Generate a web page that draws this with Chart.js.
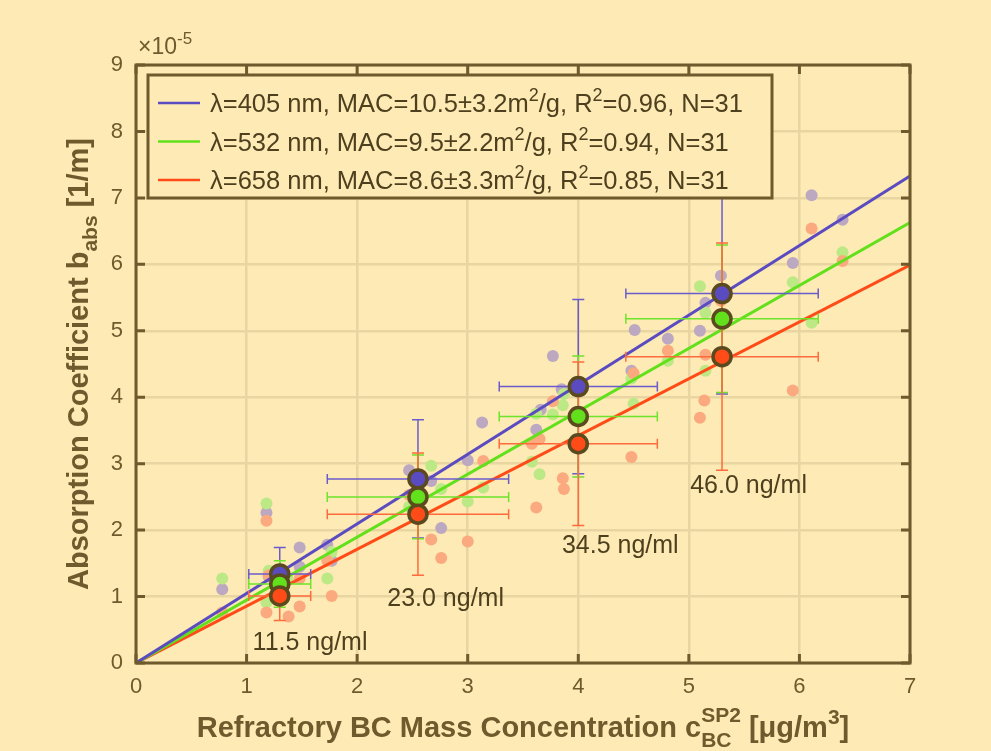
<!DOCTYPE html>
<html>
<head>
<meta charset="utf-8">
<script src="https://cdn.jsdelivr.net/npm/chart.js@4.4.1/dist/chart.umd.min.js"></script>
<style>
  body { margin: 0; background: #FDEAB5; }
  canvas { display: block; }
</style>
</head>
<body>
<canvas id="chart" width="991" height="751"></canvas>
<script>
// values in units of 1e-5 1/m (y) and ug/m3 (x)
const xTicks = [0, 1, 2, 3, 4, 5, 6, 7];
const yTicks = [0, 1, 2, 3, 4, 5, 6, 7, 8, 9];

const groupX = [1.30, 2.55, 4.00, 5.30];
const groupXErr = [0.28, 0.82, 0.715, 0.87];
const groupLabels = ["11.5 ng/ml", "23.0 ng/ml", "34.5 ng/ml", "46.0 ng/ml"];
const groupLabelX = [1.574, 2.80, 4.38, 5.54];
const groupLabelY = [0.196, 0.86, 1.66, 2.56];

const mean405 = [1.34, 2.77, 4.16, 5.56];
const err405 = [0.40, 0.89, 1.31, 1.51];
const mean532 = [1.19, 2.50, 3.71, 5.18];
const err532 = [0.35, 0.63, 0.91, 1.11];
const mean658 = [1.01, 2.24, 3.30, 4.61];
const err658 = [0.37, 0.92, 1.23, 1.71];

// fitted line end values at x = 7
const fitEnd = [7.33, 6.63, 5.99];

const pts405x = [0.78, 1.18, 1.48, 1.73, 1.77, 1.48, 1.30, 1.20, 2.47, 2.67, 2.76, 3.00, 3.13, 3.62, 3.66, 3.77, 3.85, 2.55, 4.48, 4.51, 4.81, 5.10, 5.15, 5.29, 5.94, 6.11, 6.39];
const pts405y = [1.11, 2.26, 1.74, 1.78, 1.54, 1.45, 1.37, 1.30, 2.90, 2.74, 2.03, 3.05, 3.62, 3.51, 3.81, 4.62, 4.12, 2.80, 4.40, 5.01, 4.88, 5.00, 5.42, 5.83, 6.02, 7.04, 6.67];

const pts532x = [0.78, 1.18, 1.77, 1.37, 1.73, 1.18, 1.20, 2.67, 2.76, 3.14, 3.00, 2.47, 3.58, 3.65, 3.62, 3.77, 3.87, 3.86, 4.48, 4.50, 4.81, 5.10, 5.15, 5.15, 5.94, 6.11, 6.39];
const pts532y = [1.27, 2.40, 1.67, 1.27, 1.27, 0.91, 1.39, 2.97, 2.62, 2.64, 2.43, 2.35, 3.03, 2.84, 3.75, 3.74, 4.05, 3.88, 4.28, 3.90, 4.55, 5.67, 5.27, 4.40, 5.73, 5.12, 6.18];

const pts658x = [1.18, 1.73, 1.48, 1.20, 1.77, 1.18, 1.48, 1.38, 0.78, 3.58, 3.65, 3.14, 2.47, 2.67, 3.00, 2.76, 3.62, 3.77, 4.50, 4.48, 3.86, 3.87, 4.81, 5.15, 5.29, 5.14, 5.10, 6.11, 6.39, 5.94];
const pts658y = [2.14, 1.54, 1.27, 1.32, 1.01, 0.76, 0.85, 0.70, 0.76, 3.30, 3.37, 3.04, 2.53, 1.86, 1.83, 1.58, 2.34, 3.94, 4.36, 3.10, 2.78, 2.62, 4.70, 4.64, 5.45, 3.95, 3.69, 6.54, 6.05, 4.10];

const col405 = "#5B4BC0", col532 = "#62E01C", col658 = "#FF4B17";
const fade405 = "#BCA8C0", fade532 = "#BCE985", fade658 = "#FBA97F";
const axisCol = "#6E5A2C", textCol = "#4E401E", bg = "#FDEAB5";

function pairs(xs, ys) { return xs.map((x, i) => ({ x: x, y: ys[i] })); }

const errSets = [
  { mean: mean405, err: err405, color: "#6B5CCB" },
  { mean: mean532, err: err532, color: "#6EE42A" },
  { mean: mean658, err: err658, color: "#FF6B3C" }
];

function meanSet(ys, color, order, extra) {
  return Object.assign({
    data: pairs(groupX, ys), backgroundColor: color, borderColor: "#5A4A1E",
    borderWidth: 3.5, pointRadius: 9, order: order
  }, extra || {});
}
function fitSet(end, color) {
  return {
    type: "line", data: [{ x: 0, y: 0 }, { x: 7, y: end }], borderColor: color,
    borderWidth: 3, pointRadius: 0, fill: false, order: 3
  };
}
function fadeSet(xs, ys, color, order) {
  return { data: pairs(xs, ys), backgroundColor: color, borderWidth: 0, pointRadius: 6, order: order };
}

// rich text helper: parts {t, size, bold, dy} or {stack:[sup, sub], size}
function font(size, bold) { return (bold ? "bold " : "") + size + "px 'Liberation Sans', Arial, sans-serif"; }
function partWidth(ctx, p) {
  ctx.font = font(p.size, p.bold);
  if (p.stack) return Math.max(ctx.measureText(p.stack[0]).width, ctx.measureText(p.stack[1]).width);
  return ctx.measureText(p.t).width;
}
function drawRich(ctx, parts, x, y, align) {
  let w = 0;
  parts.forEach(p => w += partWidth(ctx, p));
  let cx = align === "center" ? x - w / 2 : x;
  ctx.textBaseline = "alphabetic";
  ctx.textAlign = "left";
  parts.forEach(p => {
    const pw = partWidth(ctx, p);
    ctx.font = font(p.size, p.bold);
    if (p.stack) {
      ctx.fillText(p.stack[0], cx, y - p.up);
      ctx.fillText(p.stack[1], cx, y + p.down);
    } else {
      ctx.fillText(p.t, cx, y + (p.dy || 0));
    }
    cx += pw;
  });
}

const decor = {
  id: "decor",
  beforeDatasetDraw(chart, args) {
    if (!chart.data.datasets[args.index].errBefore) return;
    const ctx = chart.ctx, xs = chart.scales.x, ys = chart.scales.y;
    ctx.save();
    ctx.lineWidth = 1.5;
    errSets.forEach(s => {
      ctx.strokeStyle = s.color;
      groupX.forEach((gx, i) => {
        const px = xs.getPixelForValue(gx), py = ys.getPixelForValue(s.mean[i]);
        const l = xs.getPixelForValue(gx - groupXErr[i]), r = xs.getPixelForValue(gx + groupXErr[i]);
        const t = ys.getPixelForValue(s.mean[i] + s.err[i]), b = ys.getPixelForValue(s.mean[i] - s.err[i]);
        ctx.beginPath();
        ctx.moveTo(l, py); ctx.lineTo(r, py);
        ctx.moveTo(l, py - 5); ctx.lineTo(l, py + 5);
        ctx.moveTo(r, py - 5); ctx.lineTo(r, py + 5);
        ctx.moveTo(px, t); ctx.lineTo(px, b);
        ctx.moveTo(px - 6, t); ctx.lineTo(px + 6, t);
        ctx.moveTo(px - 6, b); ctx.lineTo(px + 6, b);
        ctx.stroke();
      });
    });
    ctx.restore();
  },
  afterDraw(chart) {
    const ctx = chart.ctx, a = chart.chartArea, xs = chart.scales.x, ys = chart.scales.y;
    ctx.save();
    // axis box with inward ticks
    ctx.strokeStyle = axisCol;
    ctx.lineWidth = 3;
    ctx.strokeRect(a.left, a.top, a.right - a.left, a.bottom - a.top);
    ctx.beginPath();
    xTicks.forEach(v => {
      const p = xs.getPixelForValue(v);
      ctx.moveTo(p, a.bottom); ctx.lineTo(p, a.bottom - 9);
      ctx.moveTo(p, a.top); ctx.lineTo(p, a.top + 9);
    });
    yTicks.forEach(v => {
      const p = ys.getPixelForValue(v);
      ctx.moveTo(a.left, p); ctx.lineTo(a.left + 9, p);
      ctx.moveTo(a.right, p); ctx.lineTo(a.right - 9, p);
    });
    ctx.stroke();

    // group annotations
    ctx.fillStyle = textCol;
    groupLabels.forEach((t, i) => {
      drawRich(ctx, [{ t: t, size: 25 }], xs.getPixelForValue(groupLabelX[i]), ys.getPixelForValue(groupLabelY[i]), "center");
    });

    // exponent
    ctx.fillStyle = axisCol;
    drawRich(ctx, [{ t: "\u00d710", size: 23 }, { t: "-5", size: 17, dy: -10 }], a.left + 2, a.top - 11, "left");

    // legend
    const lx = a.left + 12, ly = a.top + 10, lw = 624, lh = 123;
    ctx.fillStyle = bg;
    ctx.fillRect(lx, ly, lw, lh);
    ctx.lineWidth = 3;
    ctx.strokeStyle = axisCol;
    ctx.strokeRect(lx, ly, lw, lh);
    const rows = [
      [col405, "\u03bb=405 nm, MAC=10.5\u00b13.2m", "/g, R", "=0.96, N=31"],
      [col532, "\u03bb=532 nm, MAC=9.5\u00b12.2m", "/g, R", "=0.94, N=31"],
      [col658, "\u03bb=658 nm, MAC=8.6\u00b13.3m", "/g, R", "=0.85, N=31"]
    ];
    rows.forEach((r, i) => {
      const yy = ly + 28 + i * 38.5;
      ctx.strokeStyle = r[0];
      ctx.lineWidth = 2.5;
      ctx.beginPath(); ctx.moveTo(lx + 10, yy); ctx.lineTo(lx + 52, yy); ctx.stroke();
      ctx.fillStyle = textCol;
      drawRich(ctx, [{ t: r[1], size: 25.5 }, { t: "2", size: 18, dy: -11 }, { t: r[2], size: 25.5 },
        { t: "2", size: 18, dy: -11 }, { t: r[3], size: 25.5 }], lx + 62, yy + 9, "left");
    });

    // axis titles
    ctx.fillStyle = axisCol;
    drawRich(ctx, [
      { t: "Refractory BC Mass Concentration c", size: 29, bold: true },
      { stack: ["SP2", "BC"], size: 21, bold: true, up: 15, down: 10 },
      { t: " [\u03bcg/m", size: 29, bold: true },
      { t: "3", size: 21, bold: true, dy: -13 },
      { t: "]", size: 29, bold: true }
    ], (a.left + a.right) / 2, 737, "center");

    ctx.translate(88, (a.top + a.bottom) / 2);
    ctx.rotate(-Math.PI / 2);
    drawRich(ctx, [
      { t: "Absorption Coefficient b", size: 29, bold: true },
      { t: "abs", size: 21, bold: true, dy: 9 },
      { t: " [1/m]", size: 29, bold: true }
    ], 0, 0, "center");
    ctx.restore();
  }
};

new Chart(document.getElementById("chart"), {
  type: "scatter",
  data: {
    datasets: [
      meanSet(mean658, col658, 0),
      meanSet(mean532, col532, 1),
      meanSet(mean405, col405, 2, { errBefore: true }),
      fitSet(fitEnd[0], col405),
      fitSet(fitEnd[1], col532),
      fitSet(fitEnd[2], col658),
      fadeSet(pts658x, pts658y, fade658, 6),
      fadeSet(pts532x, pts532y, fade532, 7),
      fadeSet(pts405x, pts405y, fade405, 8)
    ]
  },
  options: {
    responsive: false,
    animation: false,
    layout: { padding: { top: 65, right: 81, left: 0, bottom: 0 } },
    plugins: { legend: { display: false }, tooltip: { enabled: false } },
    scales: {
      x: {
        type: "linear", min: 0, max: 7,
        afterFit: s => { s.height = 88; },
        afterBuildTicks: s => { s.ticks = xTicks.map(v => ({ value: v })); },
        grid: { color: "#E8D5A2", lineWidth: 2.5, drawTicks: false },
        border: { display: false },
        ticks: { color: axisCol, padding: 11, maxRotation: 0, font: { family: "'Liberation Sans', Arial", size: 22 } }
      },
      y: {
        type: "linear", min: 0, max: 9,
        afterFit: s => { s.width = 136; },
        afterBuildTicks: s => { s.ticks = yTicks.map(v => ({ value: v })); },
        grid: { color: "#E8D5A2", lineWidth: 2.5, drawTicks: false },
        border: { display: false },
        ticks: { color: axisCol, padding: 13, font: { family: "'Liberation Sans', Arial", size: 22 } }
      }
    }
  },
  plugins: [decor]
});
</script>
</body>
</html>
